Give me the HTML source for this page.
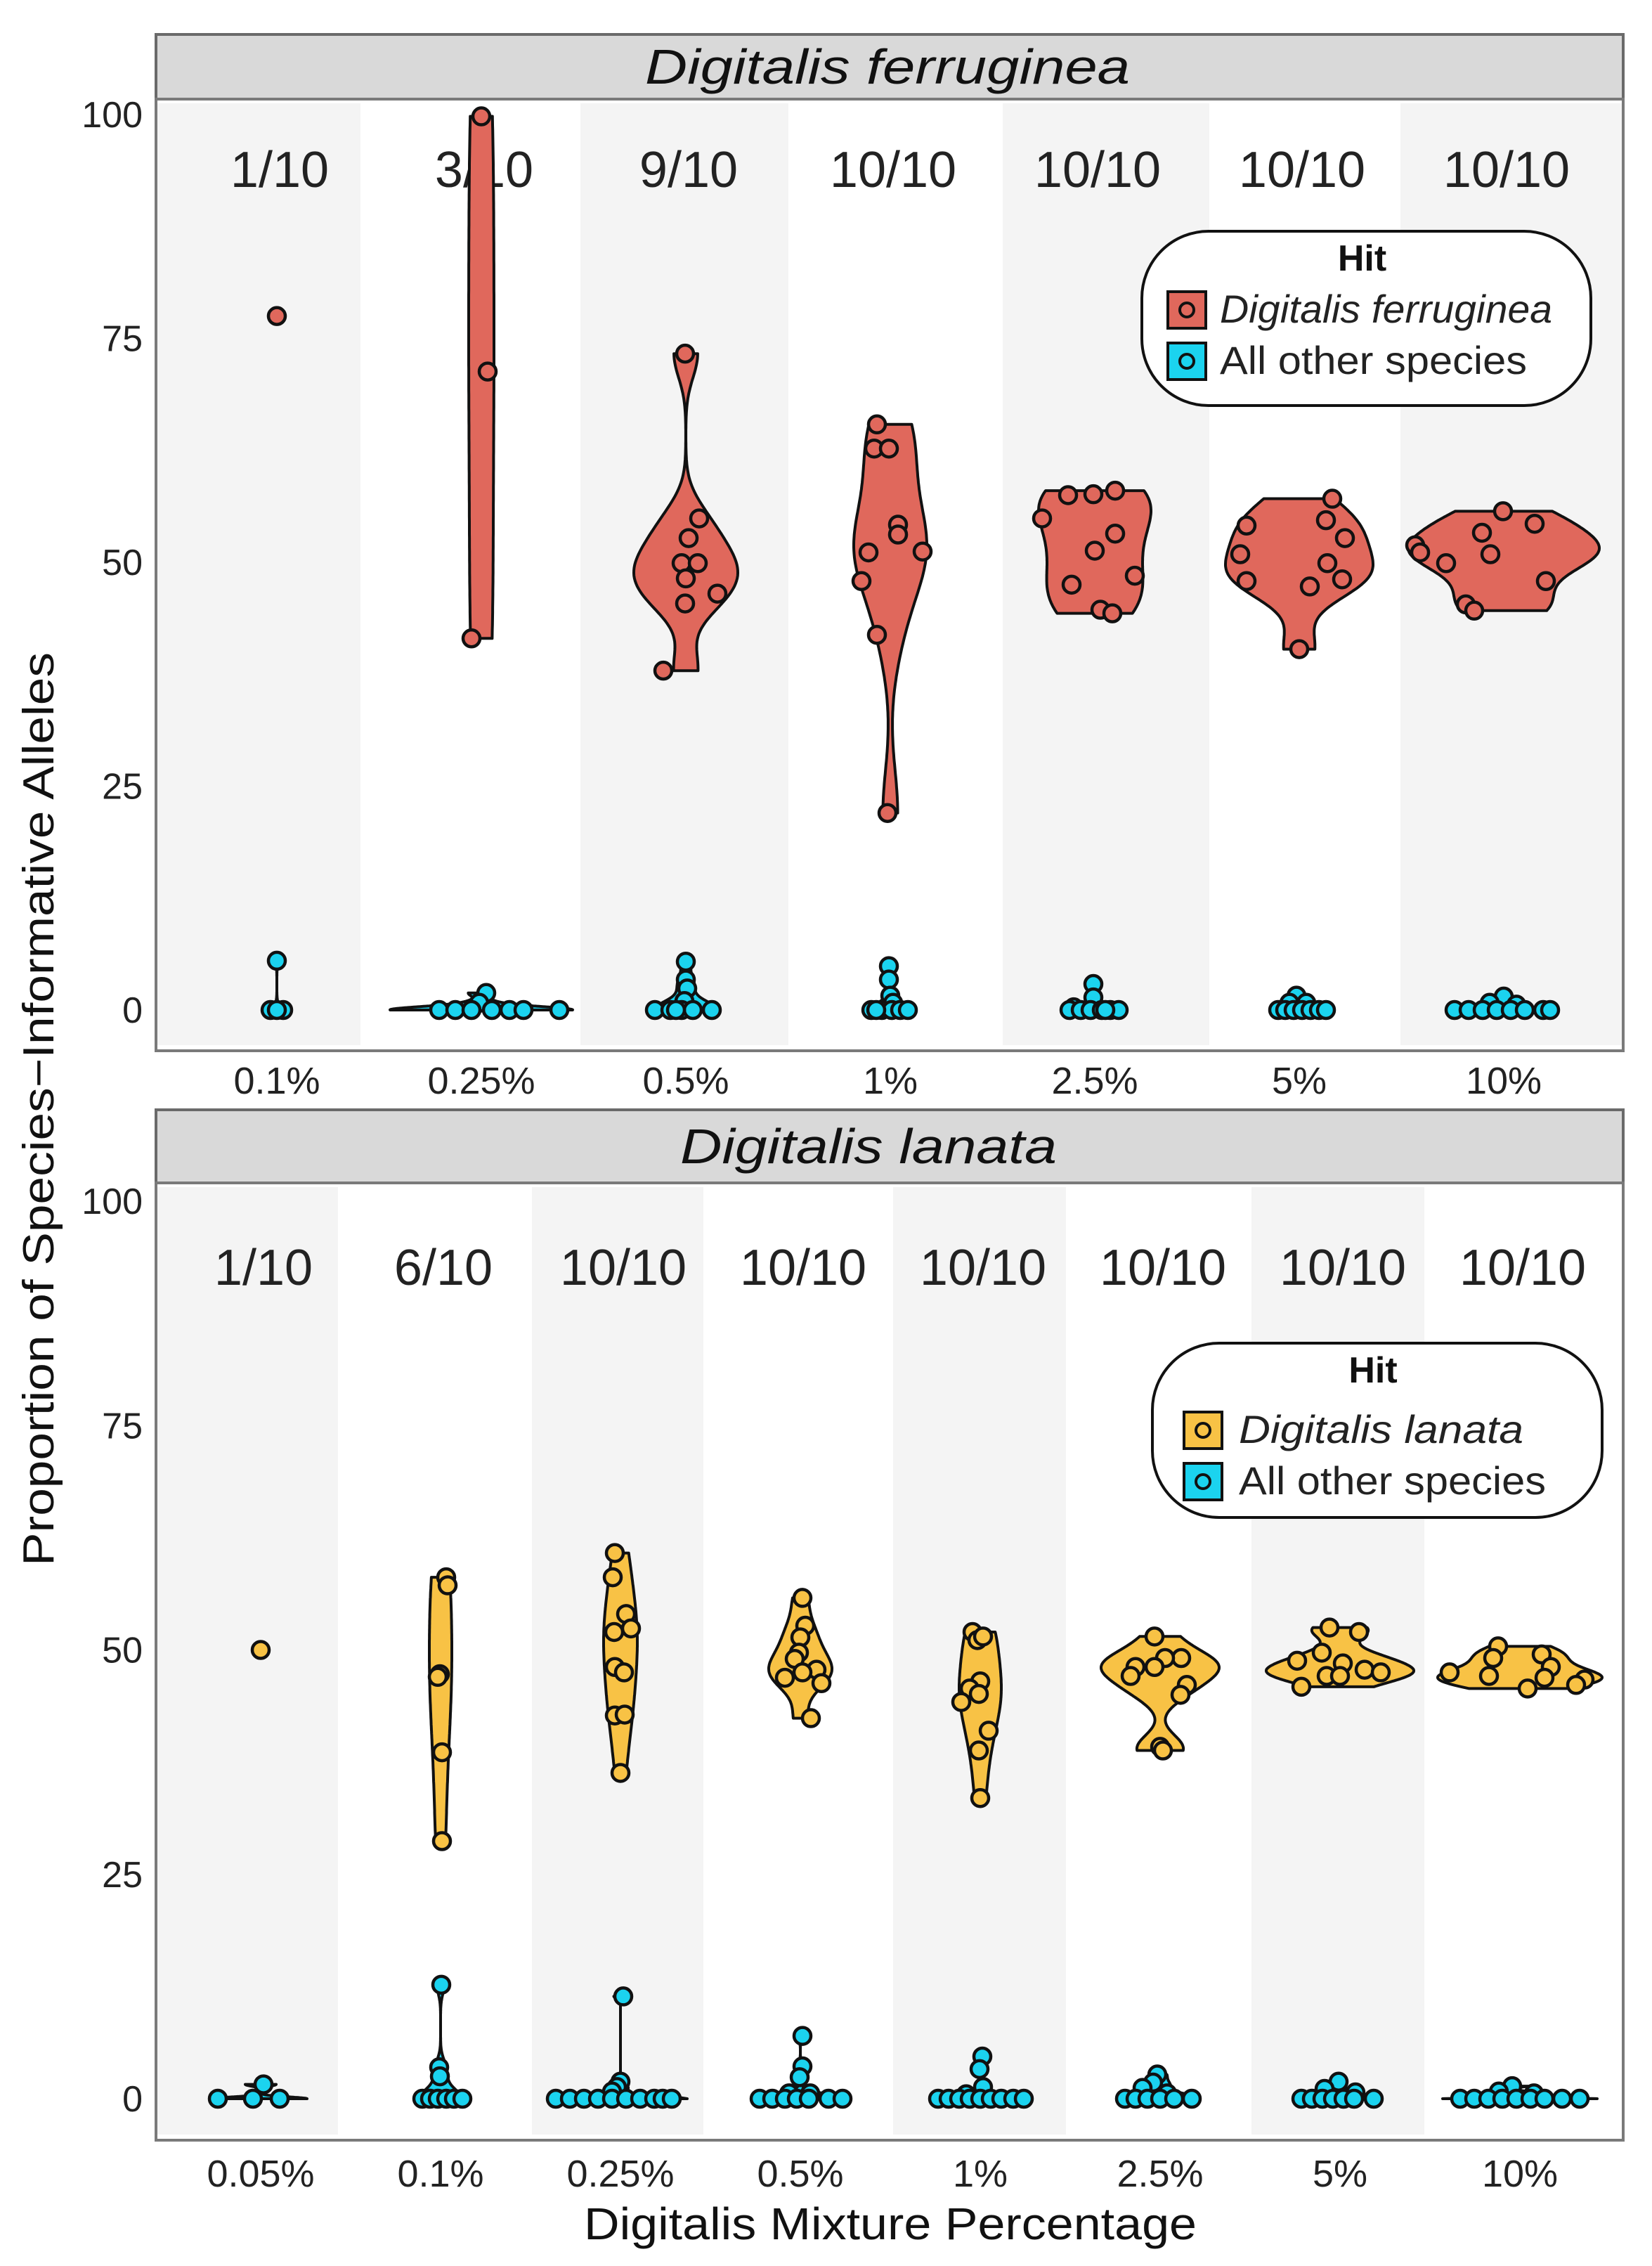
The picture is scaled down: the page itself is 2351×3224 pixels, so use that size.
<!DOCTYPE html>
<html><head><meta charset="utf-8"><style>
html,body{margin:0;padding:0;background:#fff;}
svg{display:block;font-family:"Liberation Sans",Arial,sans-serif;}
</style></head><body>
<svg id="chart" width="2351" height="3224" viewBox="0 0 2351 3224" xmlns="http://www.w3.org/2000/svg">
<rect width="2351" height="3224" fill="#fff"/>
<text x="0" y="0" transform="translate(76,1578) rotate(-90)" text-anchor="middle" font-size="62" fill="#111" textLength="1300" lengthAdjust="spacingAndGlyphs">Proportion of Species−Informative Alleles</text>
<text x="1267" y="3186" text-anchor="middle" font-size="64" fill="#111" textLength="872" lengthAdjust="spacingAndGlyphs">Digitalis Mixture Percentage</text>
</svg>
<script>
// ---------- data: top panel (Digitalis ferruginea) ----------
const topCategories = ['0.1%','0.25%','0.5%','1%','2.5%','5%','10%'];
const topCounts = ['1/10','3/10','9/10','10/10','10/10','10/10','10/10'];
const topHitValues = [
  [77.5],
  [99.8,71.3,41.5],
  [73.3,54.9,52.7,49.9,49.9,48.2,46.5,45.4,37.9],
  [65.4,62.7,62.7,54.2,53.1,51.1,51.2,47.9,41.9,22.0],
  [57.5,57.6,58.0,54.9,53.2,51.3,48.5,47.5,44.7,44.3],
  [57.1,54.7,52.7,54.1,50.9,49.9,48.1,47.9,47.3,40.3],
  [55.7,54.3,53.3,50.9,51.9,51.1,49.9,47.9,45.3,44.6]
];
const topHitJitter = [
  [0],[0,9,-14],[-1,19,4,-6,17,0,45,-1,-32],
  [-19,-23,-2,11,11,-31,46,-41,-19,-4],
  [-38,-2,29,-75,29,0,57,-33,8,25],
  [47,38,65,-75,-84,40,61,-75,15,0],
  [-1,44,-31,-19,-126,-119,-82,60,-54,-42]
];
const topOtherValues = [
  [5.5,0,0,0],
  [1.9,0.8,0,0,0,0,0,0,0],
  [5.4,3.4,2.4,1.0,0,0,0,0,0,0],
  [4.9,3.4,1.6,0.8,0,0,0,0,0,0],
  [2.9,1.4,0.3,0,0,0,0,0,0,0],
  [1.6,0.8,0.8,0,0,0,0,0,0,0],
  [1.5,0.8,0.6,0,0,0,0,0,0,0,0]
];
const topOtherJitter = [
  [0,-9,9,0],
  [7,-3,-60,-37,-14,15,40,60,111],
  [0,0,2,-2,-44,-22,-6,10,37,-14],
  [-2,-2,0,4,-27,-12,2,14,25,-20],
  [-2,-2,-30,-36,-20,-6,10,22,34,15],
  [-4,-14,10,-30,-20,-8,4,16,28,38],
  [0,-20,18,-70,-50,-30,-10,10,30,56,66]
];
// ---------- data: bottom panel (Digitalis lanata) ----------
const botCategories = ['0.05%','0.1%','0.25%','0.5%','1%','2.5%','5%','10%'];
const botCounts = ['1/10','6/10','10/10','10/10','10/10','10/10','10/10','10/10'];
const botHitValues = [
  [50.0],
  [58.1,57.2,47.3,47.0,38.6,28.7],
  [60.8,58.1,54.0,52.0,52.4,48.1,47.5,42.7,42.8,36.3],
  [55.8,52.7,51.4,49.7,47.8,46.9,46.3,42.4,49.0,47.5],
  [52.0,51.1,46.5,45.7,45.1,44.2,41.0,38.8,33.5,51.5],
  [51.5,49.1,49.1,48.1,48.1,47.1,46.1,45.0,39.2,38.8],
  [52.5,52.0,49.7,48.8,48.5,47.1,47.1,47.8,47.5,45.9],
  [50.4,49.1,49.5,48.1,47.5,47.1,46.9,46.7,46.1,45.7]
];
const botHitJitter = [
  [0],[8,10,-1,-4,2,2],
  [-8,-11,8,-9,15,-8,5,-8,6,0],
  [3,7,0,-2,23,-22,30,15,-8,3],
  [-11,-4,0,-15,-2,-27,12,-2,0,4],
  [-8,30,7,-8,-35,-42,38,29,0,4],
  [-15,27,-26,-61,4,-19,0,35,58,-55],
  [-31,-38,31,44,-100,-44,35,92,80,11]
];
const botOtherValues = [
  [1.6,0,0,0],
  [12.7,3.5,2.5,0,0,0,0,0,0],
  [11.4,1.9,1.3,0.8,0,0,0,0,0,0,0,0,0,0],
  [7.0,3.6,2.4,0.6,0.6,0,0,0,0,0,0,0],
  [4.7,3.3,1.3,0.5,0,0,0,0,0,0,0,0,0],
  [2.7,1.8,1.2,0.6,0,0,0,0,0,0],
  [1.9,1.1,0.7,0,0,0,0,0,0,0],
  [1.4,0.8,0.6,0,0,0,0,0,0,0,0,0]
];
const botOtherJitter = [
  [4,-61,-11,27],
  [1,-2,-1,-26,-15,-4,8,19,31],
  [4,0,-5,-12,-92,-72,-52,-32,-12,8,28,48,60,73],
  [3,3,-1,-16,14,-58,-40,-22,-5,12,40,60],
  [3,-1,4,-20,-60,-45,-30,-15,0,15,30,47,62],
  [-4,-10,-25,10,-50,-35,-18,0,20,45],
  [-2,-22,22,-55,-40,-25,-10,5,20,48],
  [-11,-30,20,-85,-65,-45,-25,-5,15,35,60,85]
];
const yTicks = [0,25,50,75,100];

// ---------- styling / layout ----------
const NS = 'http://www.w3.org/2000/svg';
const svg = document.getElementById('chart');
const RED = '#E0685C', YEL = '#F8C245', CYAN = '#1BD3EF';
function mk(tag, attrs, parent){
  const e = document.createElementNS(NS, tag);
  for (const k in attrs) e.setAttribute(k, attrs[k]);
  (parent||svg).appendChild(e);
  return e;
}
function quantile(s, p){ const h=(s.length-1)*p, lo=Math.floor(h); return s[lo]+(s[Math.min(lo+1,s.length-1)]-s[lo])*(h-lo); }
function nrd0(x){
  const n=x.length, m=x.reduce((a,b)=>a+b,0)/n;
  const sd=Math.sqrt(x.reduce((a,b)=>a+(b-m)*(b-m),0)/(n-1));
  const s=[...x].sort((a,b)=>a-b);
  const iqr=quantile(s,0.75)-quantile(s,0.25);
  let lo=Math.min(sd, iqr/1.34);
  if(!lo) lo = sd || Math.abs(s[0]) || 1;
  return 0.9*lo*Math.pow(n,-0.2);
}
function violinPath(cx, vals, maxHW, yScale){
  const lo=Math.min(...vals), hi=Math.max(...vals), bw=nrd0(vals);
  const N=120, ys=[], ds=[];
  for(let i=0;i<=N;i++){
    const t=lo+(hi-lo)*i/N; let d=0;
    vals.forEach(v=>{const z=(t-v)/bw; d+=Math.exp(-0.5*z*z);});
    ys.push(t); ds.push(d);
  }
  const mx=Math.max(...ds);
  let p='';
  for(let i=0;i<=N;i++){ p+=(i?'L':'M')+(cx+ds[i]/mx*maxHW).toFixed(1)+','+yScale(ys[i]).toFixed(1); }
  for(let i=N;i>=0;i--){ p+='L'+(cx-ds[i]/mx*maxHW).toFixed(1)+','+yScale(ys[i]).toFixed(1); }
  return p+'Z';
}

const panels = [
  {key:'top', title:'Digitalis ferruginea', titleLen:690, x0:222, x1:2310, stripTop:49, stripBot:141, plotBot:1495,
   yZero:1437, yHundred:163, firstCenter:394, step:291, bands:[222,513,826,1122,1427,1721,1993,2310],
   cats:topCategories, counts:topCounts, hitV:topHitValues, hitJ:topHitJitter, othV:topOtherValues, othJ:topOtherJitter,
   hitFill:RED, hitHW:[0,18,74,52,80,105,136], othHW:[3,130,44,30,45,40,75],
   xLabelY:1556, countY:266,
   legend:{x:1625,y:329,w:639,h:248,hitLabel:'Digitalis ferruginea', keyX:1662, keyY1:415, keyY2:488, textX:1736}},
  {key:'bottom', title:'Digitalis lanata', titleLen:536, x0:222, x1:2310, stripTop:1579, stripBot:1683, plotBot:3045,
   yZero:2986, yHundred:1709, firstCenter:371, step:256, bands:[222,481,757,1001,1271,1517,1781,2027,2310],
   cats:botCategories, counts:botCounts, hitV:botHitValues, hitJ:botHitJitter, othV:botOtherValues, othJ:botOtherJitter,
   hitFill:YEL, hitHW:[0,16,24,45,30,84,105,117], othHW:[66,30,95,55,60,55,60,110],
   xLabelY:3111, countY:1828,
   legend:{x:1640,y:1911,w:640,h:248,hitLabel:'Digitalis lanata', keyX:1685, keyY1:2009, keyY2:2082, textX:1763}}
];

panels.forEach(P=>{
  const g = mk('g',{});
  
  
  const y = v => P.yZero - (P.yZero - P.yHundred)*v/100;
  const xc = i => P.firstCenter + P.step*i;
  for(let i=0;i<P.bands.length-1;i++){
    if(i%2===0){
      const b = mk('rect',{x:P.bands[i], y:P.stripBot+6, width:P.bands[i+1]-P.bands[i], height:P.plotBot-P.stripBot-14, fill:'#F4F4F4'}, g);
      
      
    }
  }
  const st = mk('rect',{x:P.x0, y:P.stripTop, width:P.x1-P.x0, height:P.stripBot-P.stripTop, fill:'#D9D9D9', stroke:'#6a6a6a', 'stroke-width':4}, g);
  
  
  const stt = mk('text',{x:(P.x0+P.x1)/2+((P.key==='top')?-3:-30), y:(P.stripTop+P.stripBot)/2+24, 'text-anchor':'middle', 'font-size':70, 'font-style':'italic', fill:'#111', textLength:P.titleLen, lengthAdjust:'spacingAndGlyphs'}, g);
  stt.textContent = P.title;
  
  
  const pb = mk('rect',{x:P.x0, y:P.stripBot, width:P.x1-P.x0, height:P.plotBot-P.stripBot, fill:'none', stroke:'#7a7a7a', 'stroke-width':4}, g);
  
  
  yTicks.forEach(t=>{
    const tl = mk('text',{x:203, y:y(t)+18, 'text-anchor':'end', 'font-size':52, fill:'#222'}, g);
    tl.textContent = t;
    
    
  });
  P.cats.forEach((c,i)=>{
    const xl = mk('text',{x:xc(i), y:P.xLabelY, 'text-anchor':'middle', 'font-size':54, fill:'#222'}, g);
    xl.textContent = c;
    
    
    const cl = mk('text',{x:xc(i)+4, y:P.countY, 'text-anchor':'middle', 'font-size':72, fill:'#222'}, g);
    cl.textContent = P.counts[i];
    
    
    [[P.hitV[i], P.hitHW[i], P.hitFill, 'hit'], [P.othV[i], P.othHW[i], CYAN, 'other']].forEach(([vals,hw,fill,nm])=>{
      if(vals.length<2) return;
      const v = mk('path',{d:violinPath(xc(i), vals, hw, y), fill:fill, stroke:'#111', 'stroke-width':4, 'stroke-linejoin':'round'}, g);
      
      
    });
    [[P.hitV[i], P.hitJ[i], P.hitFill, 'hit'], [P.othV[i], P.othJ[i], CYAN, 'other']].forEach(([vals,jit,fill,nm])=>{
      vals.forEach((v,k)=>{
        const pt = mk('circle',{cx:xc(i)+(jit[k]||0), cy:y(v), r:12, fill:fill, stroke:'#111', 'stroke-width':4.5}, g);
        
        
      });
    });
  });
  const L = P.legend;
  const lg = mk('g',{}, g);
  
  
  mk('rect',{x:L.x, y:L.y, width:L.w, height:L.h, rx:95, ry:95, fill:'#fff', stroke:'#111', 'stroke-width':4}, lg);
  const lt = mk('text',{x:L.x+L.w/2-6, y:L.y+56, 'text-anchor':'middle', 'font-size':52, 'font-weight':'bold', fill:'#111'}, lg);
  lt.textContent = 'Hit';
  
  
  [[L.keyY1, P.hitFill, L.hitLabel, true, 'hit'], [L.keyY2, CYAN, 'All other species', false, 'other']].forEach(([ky,fill,lab,it,nm])=>{
    const e = mk('g',{}, lg);
    
    
    mk('rect',{x:L.keyX, y:ky, width:54, height:52, fill:fill, stroke:'#111', 'stroke-width':4}, e);
    mk('circle',{cx:L.keyX+27, cy:ky+26, r:10, fill:fill, stroke:'#111', 'stroke-width':4}, e);
    const tx = mk('text',{x:L.textX, y:ky+44, 'font-size':56, fill:'#222', 'font-style':it?'italic':'normal', textLength:it?(P.key==='top'?473:405):437, lengthAdjust:'spacingAndGlyphs'}, e);
    tx.textContent = lab;
  });
});
</script>
</body></html>
